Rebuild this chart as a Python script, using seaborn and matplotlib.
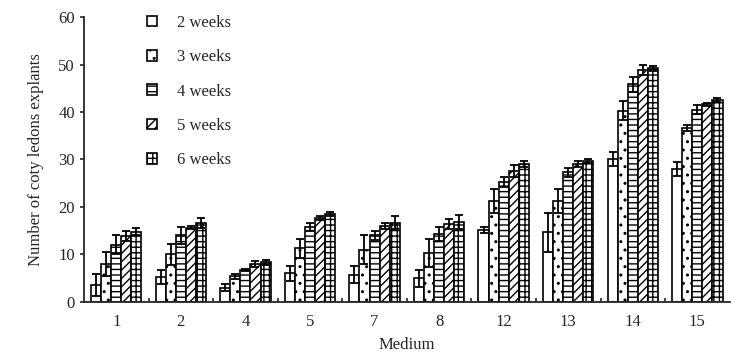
import numpy as np
import pandas as pd
import matplotlib
matplotlib.use("Agg")
import matplotlib.pyplot as plt
from matplotlib.patches import Patch
import seaborn as sns

# data
media = ['1', '2', '4', '5', '7', '8', '12', '13', '14', '15']
weeks = ['2 weeks', '3 weeks', '4 weeks', '5 weeks', '6 weeks']
w2 = [3.5, 5.2, 3.0, 6.0, 5.7, 5.0, 15.2, 14.7, 30.1, 28.0]
w3 = [8.0, 10.0, 5.4, 11.3, 11.0, 10.3, 21.2, 21.2, 40.3, 36.6]
w4 = [12.0, 14.0, 6.8, 15.8, 14.0, 14.3, 25.3, 27.3, 45.8, 40.5]
w5 = [13.9, 15.6, 8.0, 17.7, 16.0, 16.4, 27.6, 29.0, 48.9, 41.6]
w6 = [14.8, 16.6, 8.3, 18.5, 16.7, 16.8, 29.0, 29.6, 49.2, 42.5]
e2 = [2.3, 1.5, 0.8, 1.5, 1.8, 1.8, 0.6, 4.1, 1.5, 1.5]
e3 = [2.5, 2.3, 0.5, 2.0, 3.0, 3.0, 2.5, 2.5, 2.0, 0.7]
e4 = [2.0, 1.7, 0.2, 0.8, 1.0, 1.5, 1.0, 1.0, 1.6, 1.0]
e5 = [1.0, 0.3, 0.7, 0.4, 0.7, 1.1, 1.3, 0.6, 1.0, 0.4]
e6 = [0.8, 1.0, 0.5, 0.4, 1.3, 1.4, 0.6, 0.4, 0.6, 0.4]
hatches = ['', '..', '---', '////', '+++']

means = [w2, w3, w4, w5, w6]
errs = [e2, e3, e4, e5, e6]
df = pd.DataFrame({
    'Medium': media * len(weeks),
    'Week': np.repeat(weeks, len(media)),
    'Mean': np.concatenate(means),
})

sns.set_style('ticks')
plt.rcParams['font.family'] = ['Liberation Serif', 'DejaVu Serif']
plt.rcParams['hatch.linewidth'] = 1.0
plt.rcParams['hatch.color'] = 'black'

fig = plt.figure(figsize=(7.37, 3.56), dpi=100)
ax = fig.add_axes([0.114, 0.152, 0.876, 0.80])
sns.barplot(data=df, x='Medium', y='Mean', hue='Week', palette=['white'] * 5,
            edgecolor='black', linewidth=1.2, errorbar=None, width=0.78,
            legend=False, ax=ax)

for cont, h, err in zip(ax.containers, hatches, errs):
    xs = []
    ys = []
    for bar in cont:
        bar.set_hatch(h)
        xs.append(bar.get_x() + bar.get_width() / 2)
        ys.append(bar.get_height())
    ax.errorbar(xs, ys, yerr=err, fmt='none', ecolor='black',
                elinewidth=1.3, capsize=3, capthick=1.3)

ax.set_xlim(-0.5, len(media) - 0.5)
ax.set_ylim(0, 60)
ax.set_yticks(range(0, 61, 10))
ax.set_xticks(np.arange(0.5, len(media) - 0.5), minor=True)
ax.tick_params(axis='x', which='major', length=0, labelsize=12, pad=9)
ax.tick_params(axis='x', which='minor', length=3, direction='in', width=1.2)
ax.tick_params(axis='y', labelsize=12, length=3, direction='out', width=1.2)
for s in ['top', 'right']:
    ax.spines[s].set_visible(False)
for s in ['left', 'bottom']:
    ax.spines[s].set_linewidth(1.3)
ax.set_xlabel('Medium', fontsize=12, labelpad=5)
ax.set_ylabel('Number of coty ledons explants', fontsize=12, labelpad=10)

handles = [Patch(facecolor='white', edgecolor='black', hatch=h, linewidth=1.2)
           for h in hatches]
ax.legend(handles, weeks, loc='upper left', bbox_to_anchor=(0.075, 1.06),
          frameon=False, fontsize=12, handlelength=0.6, handleheight=0.6,
          labelspacing=1.1, handletextpad=1.2)

plt.savefig('out.png', dpi=100)
